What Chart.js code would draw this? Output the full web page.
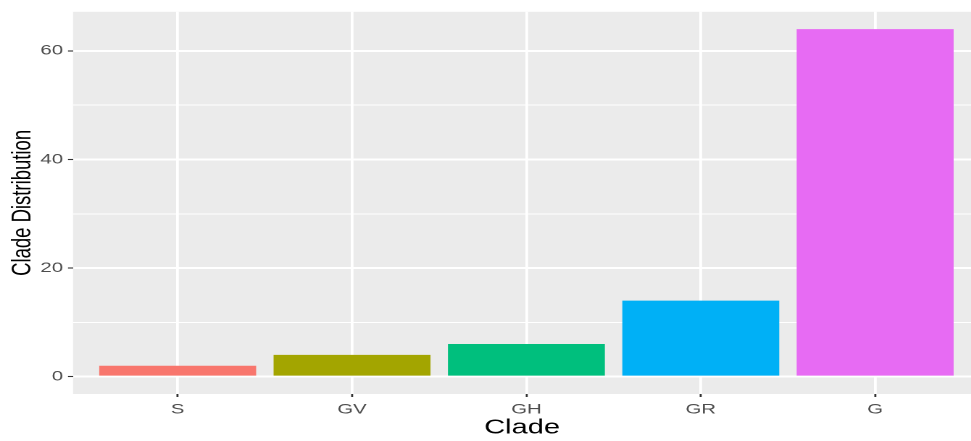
<!DOCTYPE html>
<html>
<head>
<meta charset="utf-8">
<script src="https://cdn.jsdelivr.net/npm/chart.js@4/dist/chart.umd.min.js"></script>
<style>
    html, body { margin: 0; padding: 0; background: #ffffff; overflow: hidden; }
    /* the reference is stretched sideways, so draw narrow and widen it */
    #wrap { width: 670px; height: 441px; transform: scaleX(1.4493); transform-origin: 0 0; }
</style>
</head>
<body>
<div id="wrap"><canvas id="cladeChart"></canvas></div>
<script>
const clades = ['S', 'GV', 'GH', 'GR', 'G'];
const cladeCounts = [2, 4, 6, 14, 64];
const cladeColors = ['#F8766D', '#A3A500', '#00BF7D', '#00B0F6', '#E76BF3'];
const yTicks = [0, 10, 20, 30, 40, 50, 60];

// grey ggplot panel behind the grid
const panelBackground = {
    id: 'panelBackground',
    beforeDraw(chart) {
        const { ctx, chartArea } = chart;
        ctx.save();
        ctx.fillStyle = '#EBEBEB';
        ctx.fillRect(chartArea.left, chartArea.top, chartArea.right - chartArea.left, chartArea.bottom - chartArea.top);
        ctx.restore();
    }
};

const ctx = document.getElementById('cladeChart').getContext('2d');
new Chart(ctx, {
    type: 'bar',
    data: {
        datasets: [{
            label: 'Clade Distribution',
            data: cladeCounts.map((v, i) => ({ x: i, y: v })),
            backgroundColor: cladeColors,
            borderWidth: 0,
            barPercentage: 0.9,
            categoryPercentage: 1
        }]
    },
    options: {
        responsive: true,
        maintainAspectRatio: false,
        devicePixelRatio: 2,
        animation: false,
        layout: { padding: { top: 7, right: 0, bottom: 0, left: 0 } },
        plugins: {
            legend: { display: false },
            tooltip: { enabled: false }
        },
        scales: {
            x: {
                type: 'linear',
                min: -0.6,
                max: 4.55,
                offset: false,
                afterBuildTicks: scale => { scale.ticks = clades.map((c, i) => ({ value: i })); },
                afterFit: scale => { scale.height = 47; },
                border: { display: false },
                grid: {
                    offset: false,
                    color: '#ffffff',
                    lineWidth: 1.9,
                    tickLength: 3,
                    tickColor: '#333333',
                    tickWidth: 1.4
                },
                ticks: {
                    padding: 4,
                    color: '#4D4D4D',
                    font: { family: 'Liberation Sans', size: 14 },
                    callback: value => clades[value]
                },
                title: {
                    display: true,
                    text: 'Clade',
                    color: '#000000',
                    font: { family: 'Liberation Sans', size: 20 },
                    padding: { top: 0, bottom: 1 }
                }
            },
            y: {
                min: -3.2,
                max: 67.2,
                afterBuildTicks: scale => { scale.ticks = yTicks.map(v => ({ value: v })); },
                afterFit: scale => { scale.width = 50.4; },
                border: { display: false },
                grid: {
                    color: '#ffffff',
                    lineWidth: c => (c.tick && c.tick.value % 20 === 0 ? 2 : 1),
                    tickLength: 3.5,
                    tickColor: c => (c.tick && c.tick.value % 20 === 0 ? '#333333' : 'rgba(0,0,0,0)'),
                    tickWidth: 1.1
                },
                ticks: {
                    padding: 3.4,
                    color: '#4D4D4D',
                    font: { family: 'Liberation Sans', size: 14 },
                    callback: value => (value % 20 === 0 ? value : '')
                },
                title: {
                    display: true,
                    text: 'Clade Distribution',
                    color: '#000000',
                    font: { family: 'Liberation Sans', size: 18.5 },
                    padding: { top: 5, bottom: 0 }
                }
            }
        }
    },
    plugins: [panelBackground]
});
</script>
</body>
</html>
